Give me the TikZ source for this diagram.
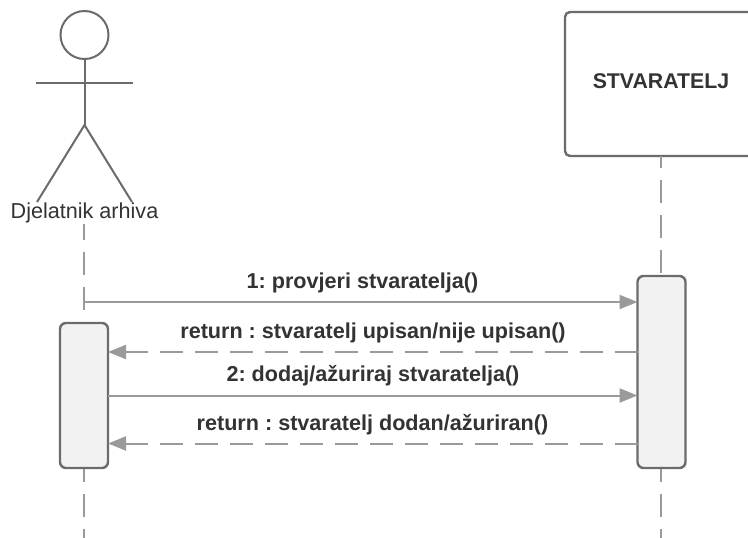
\documentclass[tikz,border=0pt]{standalone}
\usepackage{fontspec}
\setmainfont{Liberation Sans}
\usetikzlibrary{arrows.meta}
\definecolor{edgegray}{HTML}{6B6B6B}
\definecolor{linegray}{HTML}{9A9A9A}
\definecolor{boxfill}{HTML}{F2F2F2}
\definecolor{txt}{HTML}{333333}
\frenchspacing
\tikzset{
  x=1pt,y=-1pt,
  every node/.style={outer sep=0pt,inner sep=0pt},
  actorline/.style={draw=edgegray,line width=2pt},
  partbox/.style={draw=edgegray,line width=2.4pt,fill=white,rounded corners=5pt,minimum width=192pt,minimum height=144pt},
  actbox/.style={draw=edgegray,line width=2.4pt,fill=boxfill,rounded corners=6pt},
  lifeline/.style={draw=linegray,line width=2pt,dash pattern=on 23pt off 12pt},
  callarrow/.style={draw=linegray,line width=2pt,-{Triangle[length=18pt,width=14pt,fill=linegray]}},
  retarrow/.style={draw=linegray,line width=2pt,dash pattern=on 23pt off 12pt,-{Triangle[length=18pt,width=14pt,fill=linegray]}},
  msg/.style={font=\fontsize{21.6}{25}\selectfont\bfseries,text=txt},
  actorname/.style={font=\fontsize{21.6}{25}\selectfont,text=txt},
}
\begin{document}
\begin{tikzpicture}
\clip (0,0) rectangle (748,538);
\fill[white] (0,0) rectangle (748,538);
% positions
\node[actorname] (name) at (84.5,212.5) {Djelatnik arhiva};
\node[partbox] (stv) at (661,84) {};
\node[msg,font=\fontsize{21.3}{25}\selectfont\bfseries] (stvtxt) at (661,81) {STVARATELJ};
\coordinate (lifeAtop) at (84,224);
\coordinate (lifeAact) at (84,323);
\coordinate (lifeAbot) at (84,468);
\coordinate (lifeAend) at (84,538);
\coordinate (lifeBact) at (661,276);
\coordinate (lifeBbot) at (661,468);
\coordinate (lifeBend) at (661,538);
% lifelines
\draw[lifeline,dash phase=7pt] (lifeAtop) -- (lifeAact);
\draw[lifeline,dash phase=9pt] (lifeAbot) -- (lifeAend);
\draw[lifeline,dash phase=11pt] (stv.south) -- (lifeBact);
\draw[lifeline,dash phase=9pt] (lifeBbot) -- (lifeBend);
% activations
\node[actbox,minimum width=48pt,minimum height=145pt] (actA) at (84,395.5) {};
\node[actbox,minimum width=48pt,minimum height=192pt] (actB) at (661.5,372) {};
% actor
\node[draw=edgegray,line width=2pt,circle,minimum size=48pt,fill=white] (head) at (84.5,35) {};
\coordinate (hip) at (84.5,125);
\coordinate (armL) at (36,83);
\coordinate (armR) at (133,83);
\coordinate (footL) at (37,202);
\coordinate (footR) at (132,202);
\draw[actorline] (head.south) -- (hip);
\draw[actorline] (armL) -- (armR);
\draw[actorline] (footL) -- (hip) -- (footR);
% messages
\coordinate (m1) at (84,302);
\coordinate (m2) at (actA.east |- 0,352);
\coordinate (m3) at (actA.east |- 0,395.5);
\coordinate (m4) at (actA.east |- 0,443.5);
\draw[callarrow] (m1) -- (actB.west |- m1);
\draw[retarrow] (actB.west |- m2) -- (m2);
\draw[callarrow] (m3) -- (actB.west |- m3);
\draw[retarrow] (actB.west |- m4) -- (m4);
\node[msg] (l1) at (362.5,283) {1: provjeri stvaratelja()};
\node[msg] (l2) at (373,333) {return : stvaratelj upisan/nije upisan()};
\node[msg] (l3) at (373,376) {2: dodaj/ažuriraj stvaratelja()};
\node[msg] (l4) at (372.5,425) {return : stvaratelj dodan/ažuriran()};
\end{tikzpicture}
\end{document}
